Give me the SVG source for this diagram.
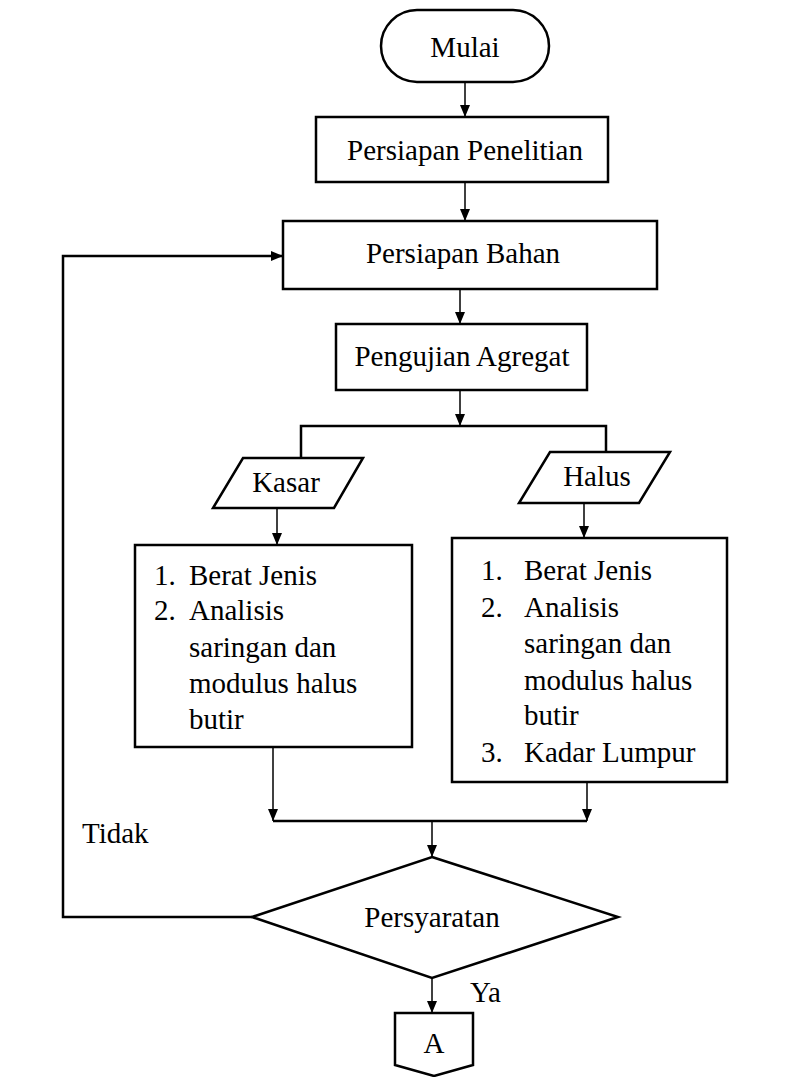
<svg xmlns="http://www.w3.org/2000/svg" width="785" height="1077" viewBox="0 0 785 1077">
<defs>
<marker id="arr" viewBox="0 0 12 10" markerWidth="12" markerHeight="10" refX="12" refY="5" orient="auto" markerUnits="userSpaceOnUse">
<path d="M0,0 L12,5 L0,10 z" fill="#000"/>
</marker>
</defs>
<rect width="785" height="1077" fill="#fff"/>
<g id="connectors" fill="none" stroke="#000">
<g stroke-width="1.5" marker-end="url(#arr)">
<line x1="465" y1="82" x2="465" y2="117"/>
<line x1="465" y1="182" x2="465" y2="221"/>
<line x1="460" y1="289" x2="460" y2="324"/>
<line x1="460" y1="390" x2="460" y2="426"/>
<line x1="277" y1="508" x2="277" y2="545"/>
<line x1="584" y1="503" x2="584" y2="538"/>
<line x1="273" y1="747" x2="273" y2="821"/>
<line x1="587" y1="782" x2="587" y2="821"/>
<line x1="432" y1="821" x2="432" y2="857"/>
<line x1="432" y1="978" x2="432" y2="1013"/>
</g>
<g stroke-width="2.5">
<polyline points="301,458 301,426 606,426 606,452"/>
<line x1="273" y1="821" x2="587" y2="821"/>
<polyline points="252,917 63,917 63,256 283,256" marker-end="url(#arr)"/>
</g>
</g>
<g id="labels" font-size="29" fill="#000" stroke="none">
<text font-family="Liberation Serif" x="82" y="843">Tidak</text>
<text font-family="Liberation Serif" x="470" y="1002">Ya</text>
</g>
<g fill="#fff" stroke="#000" stroke-width="2.5">
<g id="mulai">
<rect x="381" y="10" width="168" height="72" rx="36" ry="36"/>
</g>
<g id="persiapan-penelitian">
<rect x="316" y="117" width="292" height="65"/>
</g>
<g id="persiapan-bahan">
<rect x="283" y="221" width="374" height="68"/>
</g>
<g id="pengujian-agregat">
<rect x="336" y="324" width="251" height="66"/>
</g>
<g id="kasar">
<polygon points="243,458 363,458 334,508 213,508"/>
</g>
<g id="halus">
<polygon points="550,452 670,452 639,503 519,503"/>
</g>
<g id="uji-kasar">
<rect x="135" y="545" width="277" height="202"/>
</g>
<g id="uji-halus">
<rect x="452" y="538" width="275" height="244"/>
</g>
<g id="persyaratan">
<polygon points="432,857 618,917 432,978 252,917"/>
</g>
<g id="konektor-a">
<polygon points="395,1013 473,1013 473,1065 434,1076 395,1065"/>
</g>
</g>
<g id="node-texts" font-size="29" fill="#000">
<g text-anchor="middle">
<text font-family="Liberation Serif" x="465" y="57">Mulai</text>
<text font-family="Liberation Serif" x="465" y="160">Persiapan Penelitian</text>
<text font-family="Liberation Serif" x="463" y="263">Persiapan Bahan</text>
<text font-family="Liberation Serif" x="462" y="366">Pengujian Agregat</text>
<text font-family="Liberation Serif" x="286" y="492">Kasar</text>
<text font-family="Liberation Serif" x="597" y="486">Halus</text>
<text font-family="Liberation Serif" x="432" y="927">Persyaratan</text>
<text font-family="Liberation Serif" x="434" y="1053">A</text>
</g>
<text font-family="Liberation Serif" x="154" y="585">1.</text><text font-family="Liberation Serif" x="189" y="585">Berat Jenis</text>
<text font-family="Liberation Serif" x="154" y="620">2.</text><text font-family="Liberation Serif" x="189" y="620">Analisis</text>
<text font-family="Liberation Serif" x="189" y="657">saringan dan</text>
<text font-family="Liberation Serif" x="189" y="693">modulus halus</text>
<text font-family="Liberation Serif" x="189" y="729">butir</text>
<text font-family="Liberation Serif" x="481" y="580">1.</text><text font-family="Liberation Serif" x="524" y="580">Berat Jenis</text>
<text font-family="Liberation Serif" x="481" y="617">2.</text><text font-family="Liberation Serif" x="524" y="617">Analisis</text>
<text font-family="Liberation Serif" x="524" y="653">saringan dan</text>
<text font-family="Liberation Serif" x="524" y="690">modulus halus</text>
<text font-family="Liberation Serif" x="524" y="725">butir</text>
<text font-family="Liberation Serif" x="481" y="762">3.</text><text font-family="Liberation Serif" x="524" y="762">Kadar Lumpur</text>
</g>
</svg>
